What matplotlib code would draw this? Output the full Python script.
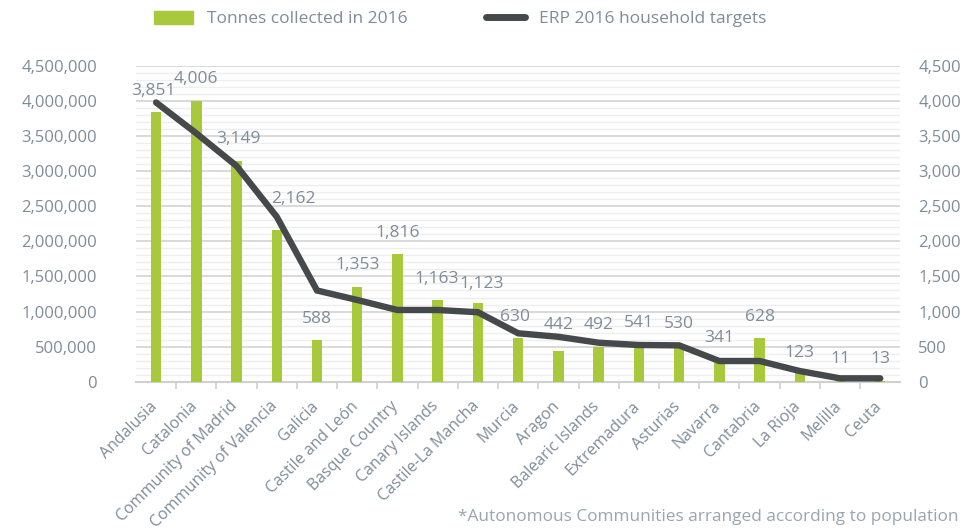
import matplotlib.pyplot as plt
import matplotlib.transforms as mtransforms
from matplotlib.ticker import FuncFormatter, MultipleLocator
from matplotlib.lines import Line2D
from matplotlib.patches import Patch

plt.rcParams['font.family'] = ['Open Sans', 'DejaVu Sans']

regions = ["Andalusia", "Catalonia", "Community of Madrid", "Community of Valencia",
           "Galicia", "Castile and León", "Basque Country", "Canary Islands",
           "Castile-La Mancha", "Murcia", "Aragon", "Balearic Islands", "Extremadura",
           "Asturias", "Navarra", "Cantabria", "La Rioja", "Melilla", "Ceuta"]
# tonnes collected in 2016 (labels shown in thousands)
tonnes_2016 = [3851000, 4006000, 3149000, 2162000, 588000, 1353000, 1816000, 1163000,
               1123000, 630000, 442000, 492000, 541000, 530000, 341000, 628000,
               123000, 11000, 13000]
# ERP 2016 household targets (thousands, right axis)
erp_targets = [3980, 3540, 3075, 2350, 1300, 1165, 1022, 1022, 990, 690, 640, 556,
               523, 518, 295, 295, 152, 48, 48]

# label offsets from bar tops, in pixels (some were nudged to clear the line)
label_dy = [21, 22, 22, 31, 21, 22, 21, 21, 19, 21, 26, 22, 21, 21, 20, 21, 20, 22, 22]
label_dx = [-3, 0, 2, 17, 0, 0, 0, -1, 4, -3, 0, 0, 0, 0, 0, 0, 0, 0, 0]

text_col = '#7f8c99'
green = '#a7c93b'
dark = '#46494c'

fig = plt.figure(figsize=(9.74, 5.30), dpi=100)
ax = fig.add_axes([0.1396, 0.2798, 0.7848, 0.5957])
ax2 = ax.twinx()

x = list(range(len(regions)))
ax.bar(x, tonnes_2016, width=0.26, color=green, zorder=3)
ax2.plot(x, erp_targets, color=dark, lw=4.6, solid_capstyle='round',
         solid_joinstyle='miter', zorder=4)

for i, v in enumerate(tonnes_2016):
    ax.annotate(f"{v // 1000:,}", (i, v), xytext=(label_dx[i], label_dy[i]),
                textcoords='offset pixels', ha='center', va='center',
                fontsize=12.5, color=text_col, zorder=5)

ax.set_xlim(-0.5, len(regions) - 0.5)
ax.set_ylim(0, 4500000)
ax2.set_ylim(0, 4500)
ax.yaxis.set_major_locator(MultipleLocator(500000))
ax.yaxis.set_minor_locator(MultipleLocator(100000))
ax2.yaxis.set_major_locator(MultipleLocator(500))
ax.yaxis.set_major_formatter(FuncFormatter(lambda v, p: f"{int(v):,}"))
ax2.yaxis.set_major_formatter(FuncFormatter(lambda v, p: f"{int(v):,}"))

ax.grid(axis='y', which='major', color='#d9d9d9', lw=1.4, zorder=0)
ax.grid(axis='y', which='minor', color='#eeeeee', lw=1.0, zorder=0)
ax.set_axisbelow(True)

for a in (ax, ax2):
    for s in ['top', 'left', 'right']:
        a.spines[s].set_visible(False)
    a.spines['bottom'].set_color('#d0d0d0')
    a.spines['bottom'].set_linewidth(1.5)
ax2.spines['bottom'].set_visible(False)

ax.tick_params(axis='y', which='both', length=0, labelsize=12, labelcolor=text_col, pad=28)
ax2.tick_params(axis='y', which='both', length=0, labelsize=12, labelcolor=text_col, pad=13)

ax.set_xticks(x)
ax.set_xticklabels(regions, rotation=45, ha='right', rotation_mode='anchor',
                   fontsize=11.5, color=text_col)
ax.tick_params(axis='x', which='major', length=0, pad=12)
# shift the rotated labels a little to the left, like the original
shift = mtransforms.ScaledTranslation(-7 / 100, 0, fig.dpi_scale_trans)
for lab in ax.get_xticklabels():
    lab.set_transform(lab.get_transform() + shift)
ax.set_xticks([i + 0.5 for i in x[:-1]], minor=True)
ax.tick_params(axis='x', which='minor', length=5, color='#d0d0d0', width=1.2)

handles = [Patch(color=green, label='Tonnes collected in 2016'),
           Line2D([0], [0], color=dark, lw=5, solid_capstyle='round',
                  label='ERP 2016 household targets')]
fig.legend(handles=handles, loc='center left', bbox_to_anchor=(0.146, 0.964), ncol=2,
           frameon=False, fontsize=12.5, labelcolor=text_col, handlelength=2.25,
           handleheight=0.75, columnspacing=4.5, handletextpad=0.8, borderpad=0.2)

fig.text(0.984, 0.024, "*Autonomous Communities arranged according to population",
         ha='right', va='center', fontsize=12.4, color='#9aa5ae')

fig.savefig('out.png', dpi=100)
